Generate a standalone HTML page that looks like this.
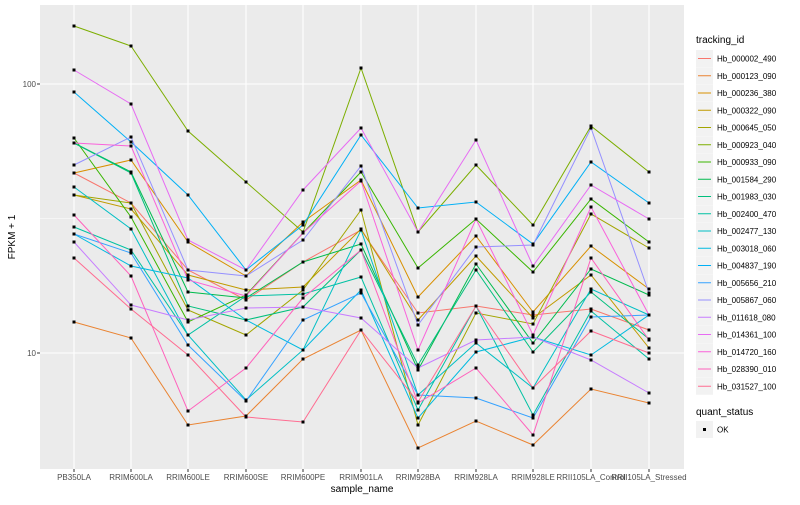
<!DOCTYPE html>
<html><head><meta charset="utf-8"><style>
body{margin:0;background:#fff;font-family:"Liberation Sans",Arial,sans-serif}
svg text{font-family:"Liberation Sans",Arial,sans-serif}
</style></head><body>
<svg id="s" width="800" height="500" xmlns="http://www.w3.org/2000/svg">
<rect x="0" y="0" width="800" height="500" fill="#fff"/>
<rect x="40" y="5" width="644" height="464" fill="#EBEBEB"/>
<g id="grid"></g>
<g id="series"></g>
<g font-size="8" fill="#4D4D4D" text-anchor="end">
<text x="36" y="87">100</text><text x="36" y="356">10</text>
</g>
<line x1="37" y1="84" x2="40" y2="84" stroke="#333" stroke-width="1"/>
<line x1="37" y1="353" x2="40" y2="353" stroke="#333" stroke-width="1"/>
<text x="15" y="237" font-size="10" text-anchor="middle" transform="rotate(-90 15 237)" fill="#000">FPKM + 1</text>
<g id="xl" font-size="8" fill="#4D4D4D" text-anchor="middle"></g>
<text x="362" y="492" font-size="10" text-anchor="middle" fill="#000">sample_name</text>
<g id="leg"></g>
</svg>
<script>
var X=[74,131,188,246,303,361,418,476,533,591,649];
var names=["PB350LA","RRIM600LA","RRIM600LE","RRIM600SE","RRIM600PE","RRIM901LA","RRIM928BA","RRIM928LA","RRIM928LE","RRII105LA_Control","RRII105LA_Stressed"];
var cols=["#F8766D","#EA8331","#D89000","#C09B00","#A3A500","#7CAE00","#39B600","#00BB4E","#00BF7D","#00C1A3","#00BFC4","#00BAE0","#00B0F6","#35A2FF","#9590FF","#C77CFF","#E76BF3","#FA62DB","#FF62BC","#FF6C91"];
var ids=["Hb_000002_490","Hb_000123_090","Hb_000236_380","Hb_000322_090","Hb_000645_050","Hb_000923_040","Hb_000933_090","Hb_001584_290","Hb_001983_030","Hb_002400_470","Hb_002477_130","Hb_003018_060","Hb_004837_190","Hb_005656_210","Hb_005867_060","Hb_011618_080","Hb_014361_100","Hb_014720_160","Hb_028390_010","Hb_031527_100"];
var D=[
[173,203,270,300,262,230,313,306,315,309,330],
[322,338,425,416,359,330,448,421,445,389,403],
[173,160,242,276,222,180,297,236,312,246,289],
[195,209,275,290,287,229,320,256,318,275,348],
[195,203,310,335,290,210,425,313,324,214,248],
[26,46,131,182,232,68,232,165,225,126,172],
[138,217,322,295,233,172,268,219,272,199,242],
[143,172,292,298,262,244,370,264,343,269,295],
[143,173,306,320,307,250,365,270,352,292,339],
[227,250,335,296,294,277,410,306,415,311,359],
[187,229,335,400,350,230,395,343,388,289,315],
[234,266,278,320,350,290,418,352,337,355,315],
[92,142,195,270,225,135,208,202,244,162,203],
[234,253,345,401,320,293,395,398,418,317,315],
[165,137,270,276,240,166,325,247,245,128,293],
[242,305,320,308,307,318,368,340,337,360,393],
[70,104,240,270,190,128,232,140,266,185,219],
[143,146,280,296,233,181,350,219,335,207,315],
[215,276,411,368,298,250,403,368,435,258,340],
[258,309,355,417,422,330,402,306,388,331,353]];
var NS="http://www.w3.org/2000/svg";
function el(p,t,a,txt){var e=document.createElementNS(NS,t);for(var k in a)e.setAttribute(k,a[k]);if(txt)e.textContent=txt;p.appendChild(e);return e;}
var g=document.getElementById("grid");
el(g,"line",{x1:40,x2:684,y1:218.5,y2:218.5,stroke:"#fff","stroke-width":0.5});
[84,353].forEach(function(y){el(g,"line",{x1:40,x2:684,y1:y,y2:y,stroke:"#fff","stroke-width":1.1});});
X.forEach(function(x){el(g,"line",{x1:x,x2:x,y1:5,y2:469,stroke:"#fff","stroke-width":1.1});});
var xl=document.getElementById("xl");
X.forEach(function(x,i){el(xl,"line",{x1:x,x2:x,y1:469,y2:472,stroke:"#333"});el(xl,"text",{x:x,y:480},names[i]);});
var s=document.getElementById("series");
D.forEach(function(d,i){el(s,"polyline",{points:d.map(function(y,j){return X[j]+","+y}).join(" "),fill:"none",stroke:cols[i],"stroke-width":1});});
D.forEach(function(d){d.forEach(function(y,j){el(s,"rect",{x:X[j]-1.5,y:y-1.5,width:3,height:3,fill:"#000"});});});
var L=document.getElementById("leg");
el(L,"text",{x:696,y:43,"font-size":10,fill:"#000"},"tracking_id");
ids.forEach(function(n,i){var y=50+i*17.25;el(L,"rect",{x:696,y:y,width:17,height:17,fill:"#F2F2F2"});el(L,"line",{x1:698,x2:711,y1:y+8.5,y2:y+8.5,stroke:cols[i],"stroke-width":1});el(L,"text",{x:717,y:y+11.5,"font-size":8,fill:"#000"},n);});
el(L,"text",{x:696,y:415,"font-size":10,fill:"#000"},"quant_status");
el(L,"rect",{x:696,y:421,width:17,height:17,fill:"#F2F2F2"});
el(L,"rect",{x:703,y:428,width:3,height:3,fill:"#000"});
el(L,"text",{x:717,y:432.5,"font-size":8,fill:"#000"},"OK");
</script>
</body></html>
